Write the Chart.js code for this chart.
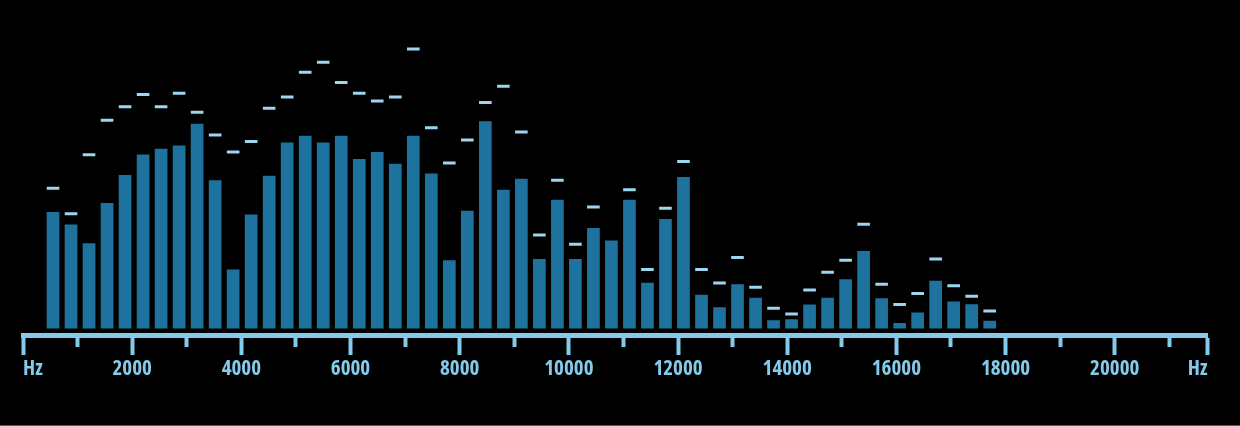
<!DOCTYPE html>
<html>
<head>
<meta charset="utf-8">
<script src="https://cdn.jsdelivr.net/npm/chart.js@4.4.1/dist/chart.umd.min.js"></script>
<style>
  html, body { margin: 0; padding: 0; background: #000; }
  #wrap { width: 1240px; height: 425px; border-bottom: 1px solid #5c5c5c; position: relative; }
</style>
</head>
<body>
<div id="wrap"><canvas id="spectrum"></canvas></div>
<script>
// bin centre frequencies (Hz)
const binHz = [550, 880, 1210, 1540, 1870, 2200, 2530, 2860, 3190, 3520,
  3850, 4180, 4510, 4840, 5170, 5500, 5830, 6160, 6490, 6820,
  7150, 7480, 7810, 8140, 8470, 8800, 9130, 9460, 9790, 10120,
  10450, 10780, 11110, 11440, 11770, 12100, 12430, 12760, 13090, 13420,
  13750, 14080, 14410, 14740, 15070, 15400, 15730, 16060, 16390, 16720,
  17050, 17380, 17710];
// current level of each bin
const levels = [38.8, 34.6, 28.4, 41.8, 51.1, 57.9, 59.8, 60.9, 68.1, 49.3,
  19.6, 37.9, 50.8, 61.9, 64.1, 61.9, 64.1, 56.4, 58.7, 54.8,
  64.1, 51.6, 22.7, 39.2, 69.0, 46.2, 49.8, 23.1, 42.8, 23.1,
  33.4, 29.3, 42.8, 15.2, 36.4, 50.4, 11.2, 7.1, 14.7, 10.2,
  2.7, 3.1, 8.0, 10.2, 16.4, 25.8, 10.1, 1.8, 5.3, 15.9,
  9.0, 8.1, 2.6];
// peak hold of each bin (null = no marker)
const peaks = [46.7, 38.2, 57.8, 69.3, 73.8, 77.9, 73.8, 78.3, 72.0, 64.4,
  58.7, 62.2, 73.3, 77.0, 85.3, 88.6, 81.9, 78.3, 75.7, 77.0,
  93.0, 66.8, 55.1, 62.7, 75.2, 80.6, 65.4, 31.1, 49.3, 28.0,
  40.4, null, 46.2, 19.6, 40.0, 55.6, 19.6, 15.1, 23.6, 13.7,
  6.7, 4.8, 12.8, 18.7, 22.7, 34.7, 14.7, 8.0, 11.6, 23.1,
  14.2, 10.7, 5.8];

const maxHz = 21700;
const tickHz = [0, 1000, 2000, 3000, 4000, 5000, 6000, 7000, 8000, 9000, 10000,
  11000, 12000, 13000, 14000, 15000, 16000, 17000, 18000, 19000, 20000, 21000, maxHz];
const tickText = ["Hz", "", "2000", "", "4000", "", "6000", "", "8000", "", "10000",
  "", "12000", "", "14000", "", "16000", "", "18000", "", "20000", "", "Hz"];

const barBlue = "#1d729e";
const peakBlue = "#9dd6ef";
const axisBlue = "#84caea";

new Chart("spectrum", {
  data: {
    datasets: [
      {
        type: "line",
        data: binHz.map((f, i) => ({ x: f, y: peaks[i] })),
        showLine: false,
        pointStyle: "line",
        pointRadius: 6.3,
        pointBorderWidth: 3,
        pointBorderColor: peakBlue,
        pointBackgroundColor: peakBlue,
        order: 0,
      },
      {
        type: "bar",
        data: binHz.map((f, i) => ({ x: f, y: levels[i] })),
        backgroundColor: barBlue,
        barPercentage: 0.705,
        categoryPercentage: 1,
        order: 1,
      },
    ],
  },
  options: {
    responsive: true,
    maintainAspectRatio: false,
    animation: false,
    layout: { padding: { left: 23, right: 32.5, top: 28, bottom: 41 } },
    plugins: {
      legend: { display: false },
      tooltip: { enabled: false },
    },
    scales: {
      x: {
        type: "linear",
        min: 0,
        max: maxHz,
        offset: false,
        afterBuildTicks: (scale) => {
          scale.ticks = tickHz.map((v) => ({ value: v }));
        },
        border: { display: true, color: axisBlue, width: 5 },
        grid: {
          offset: false,
          drawOnChartArea: false,
          drawTicks: true,
          tickLength: 20,
          tickWidth: 4,
          tickColor: axisBlue,
          tickBorderDash: (ctx) => (ctx.tick && tickText[ctx.index] === "" ? [9, 40] : []),
        },
        ticks: {
          autoSkip: false,
          maxRotation: 0,
          align: "inner",
          padding: 4,
          color: axisBlue,
          font: { family: "'Open Sans', 'DejaVu Sans Condensed', sans-serif", size: 21, weight: "bold condensed", lineHeight: 1 },
          callback: (v, i) => tickText[i],
        },
      },
      y: {
        display: false,
        min: -2.17,
        max: 100,
      },
    },
  },
});
</script>
</body>
</html>
